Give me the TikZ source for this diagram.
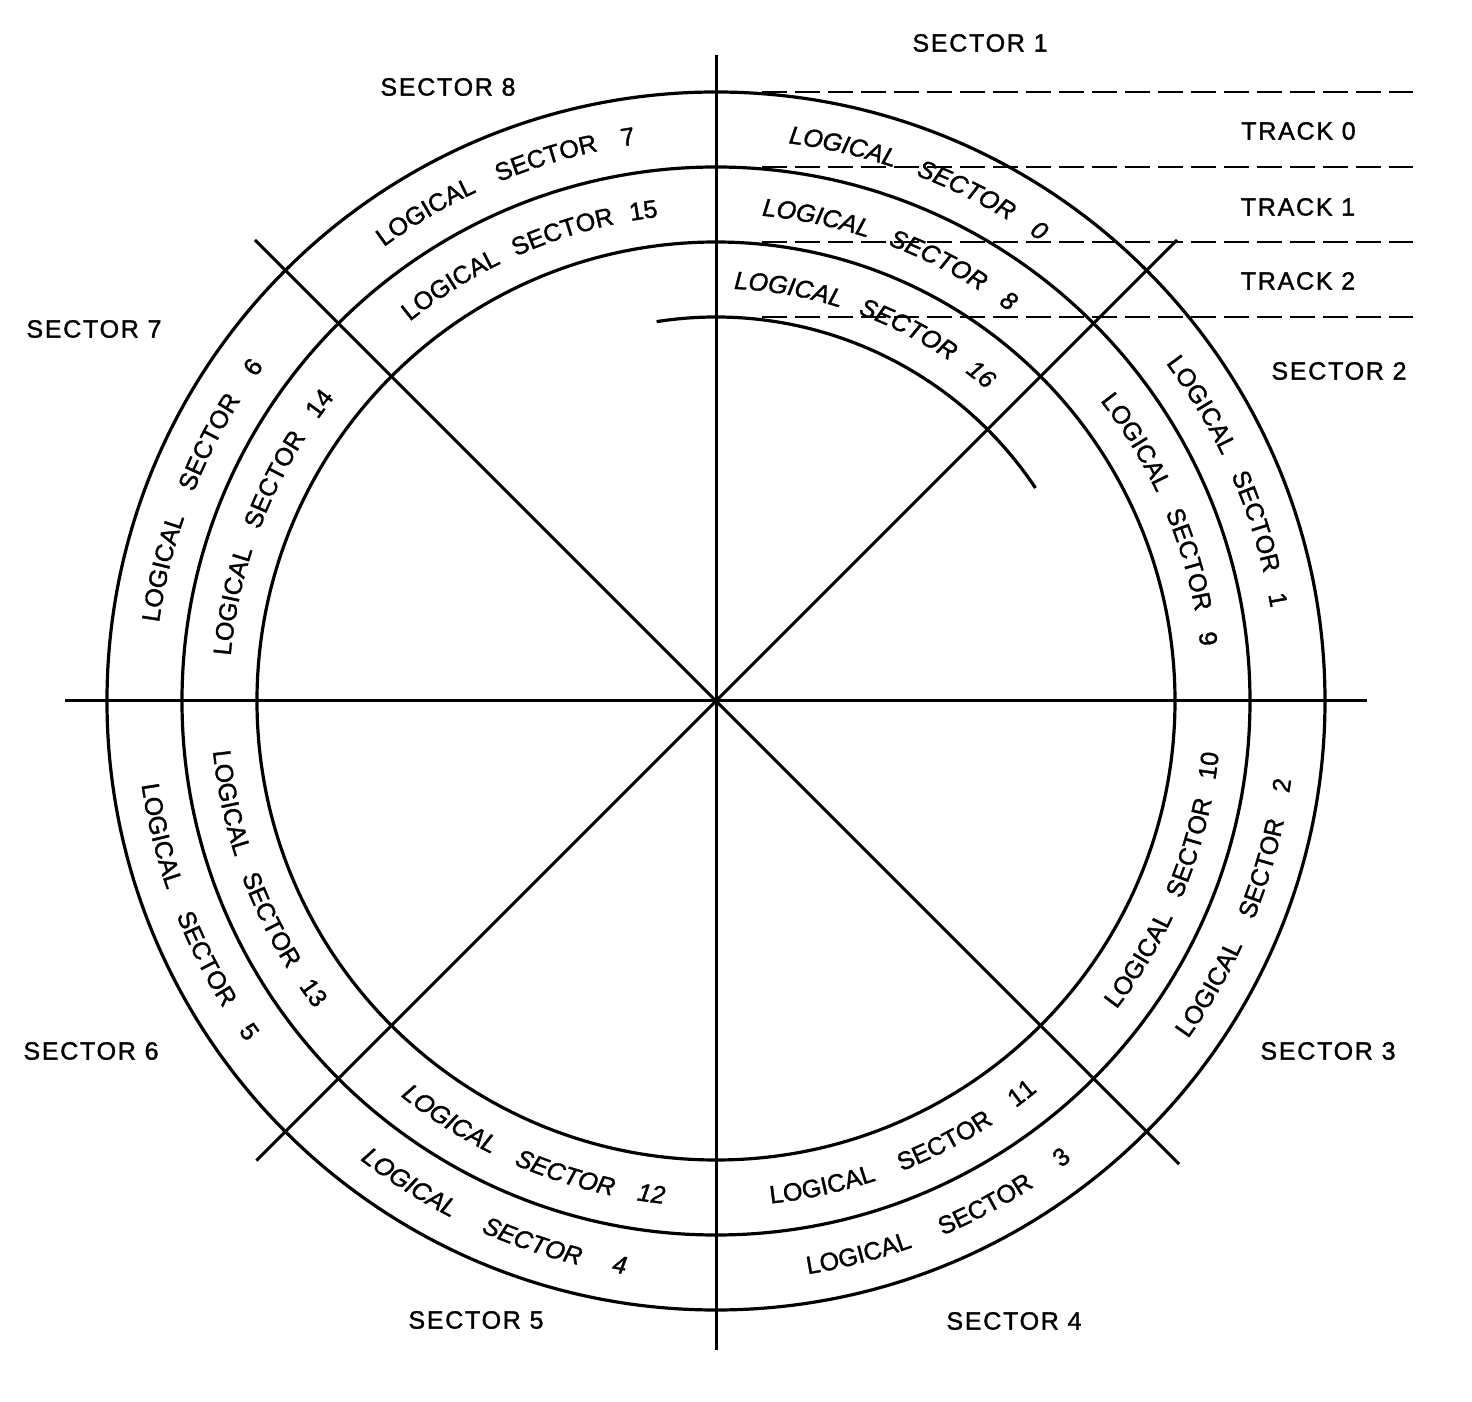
\documentclass[tikz,border=0pt]{standalone}
\usepackage{fontspec}
\setmainfont{Liberation Sans}[FakeBold=1.4,LetterSpace=2]
\newfontfamily\spacedfont[LetterSpace=7,FakeBold=1.4]{Liberation Sans}
\usetikzlibrary{decorations.text}

\newcommand\LblUp{\fontsize{25pt}{30pt}\selectfont}
\newcommand\LblIt{\fontsize{25pt}{30pt}\selectfont\itshape}
% #1 radius, #2 start angle, #3 end angle, #4 font, #5 text
\newcommand\ArcText[5]{%
  \path[decorate,decoration={text along path,
      text align={fit to path stretching spaces},
      text={|#4|#5}}]
    (#2:#1) arc[start angle=#2,end angle=#3,radius=#1];}

\tikzset{
  ring/.style={line width=3.2pt},
  spoke/.style={line width=3pt},
  trackline/.style={line width=2.6pt,dash pattern=on 25pt off 8pt},
  lbl/.style={font={\spacedfont\fontsize{25pt}{30pt}\selectfont},inner sep=0pt}
}

\begin{document}
\begin{tikzpicture}
\useasboundingbox (-716pt,-701pt) rectangle (756pt,701pt);
\coordinate (O) at (0pt,0pt);

% rings
\draw[ring] (O) circle[radius=609pt];
\draw[ring] (O) circle[radius=534pt];
\draw[ring] (O) circle[radius=459pt];
\draw[ring] (98.9:384pt) arc[start angle=98.9,end angle=33.7,radius=384pt];

% spokes
\coordinate (N) at (0pt,646pt);
\coordinate (S) at (0pt,-649pt);
\coordinate (W) at (-651pt,0pt);
\coordinate (E) at (651pt,0pt);
\coordinate (NE) at (45:652pt);
\coordinate (SW) at (225:650pt);
\coordinate (NW) at (135:652pt);
\coordinate (SE) at (-45:655pt);
\draw[spoke] (N) -- (S);
\draw[spoke] (W) -- (E);
\draw[spoke] (NE) -- (SW);
\draw[spoke] (NW) -- (SE);

% track boundary dashed lines
\foreach \y/\n in {609/a,534/b,459/c,384/d}{
  \coordinate (dl\n) at (46pt,\y pt);
  \coordinate (dr\n) at (697pt,\y pt);
  \draw[trackline] (dl\n) -- (dr\n);
}

% track labels
\node[lbl] (t0) at (582.5pt,570pt) {TRACK 0};
\node[lbl] (t1) at (582pt,494pt) {TRACK 1};
\node[lbl] (t2) at (582pt,420pt) {TRACK 2};

% sector labels
\node[lbl] (s1) at (264pt,658pt) {SECTOR 1};
\node[lbl] (s2) at (623pt,330pt) {SECTOR 2};
\node[lbl] (s3) at (612pt,-350pt) {SECTOR 3};
\node[lbl] (s4) at (298pt,-620pt) {SECTOR 4};
\node[lbl] (s5) at (-240pt,-619pt) {SECTOR 5};
\node[lbl] (s6) at (-625pt,-350pt) {SECTOR 6};
\node[lbl] (s7) at (-622pt,372pt) {SECTOR 7};
\node[lbl] (s8) at (-268pt,614pt) {SECTOR 8};

% track 0 (outer ring)
\ArcText{562.5pt}{82.6}{54.8}{\LblIt}{LOGICAL SECTOR 0}
\ArcText{562.5pt}{36.9}{9.5}{\LblUp}{LOGICAL SECTOR 1}
\ArcText{580.5pt}{-35.6}{-7.8}{\LblUp}{LOGICAL SECTOR 2}
\ArcText{580.5pt}{-80.9}{-52.2}{\LblUp}{LOGICAL SECTOR 3}
\ArcText{580.5pt}{-127.8}{-99.0}{\LblIt}{LOGICAL SECTOR 4}
\ArcText{580.5pt}{-171.7}{-144.0}{\LblUp}{LOGICAL SECTOR 5}
\ArcText{562.5pt}{172.0}{143.5}{\LblUp}{LOGICAL SECTOR 6}
\ArcText{562.5pt}{126.2}{98.2}{\LblUp}{LOGICAL SECTOR 7}

% track 1 (middle ring)
\ArcText{487.5pt}{84.6}{53.0}{\LblIt}{LOGICAL SECTOR 8}
\ArcText{487.5pt}{38.0}{6.4}{\LblUp}{LOGICAL SECTOR 9}
\ArcText{505.5pt}{-37.6}{-5.9}{\LblUp}{LOGICAL SECTOR 10}
\ArcText{505.5pt}{-83.8}{-50.5}{\LblUp}{LOGICAL SECTOR 11}
\ArcText{505.5pt}{-128.6}{-95.9}{\LblIt}{LOGICAL SECTOR 12}
\ArcText{505.5pt}{-174.3}{-142.5}{\LblUp}{LOGICAL SECTOR 13}
\ArcText{487.5pt}{174.7}{141.5}{\LblUp}{LOGICAL SECTOR 14}
\ArcText{487.5pt}{128.9}{96.8}{\LblUp}{LOGICAL SECTOR 15}

% track 2 (inner ring)
\ArcText{412.5pt}{87.5}{49.0}{\LblIt}{LOGICAL SECTOR 16}
\end{tikzpicture}
\end{document}
